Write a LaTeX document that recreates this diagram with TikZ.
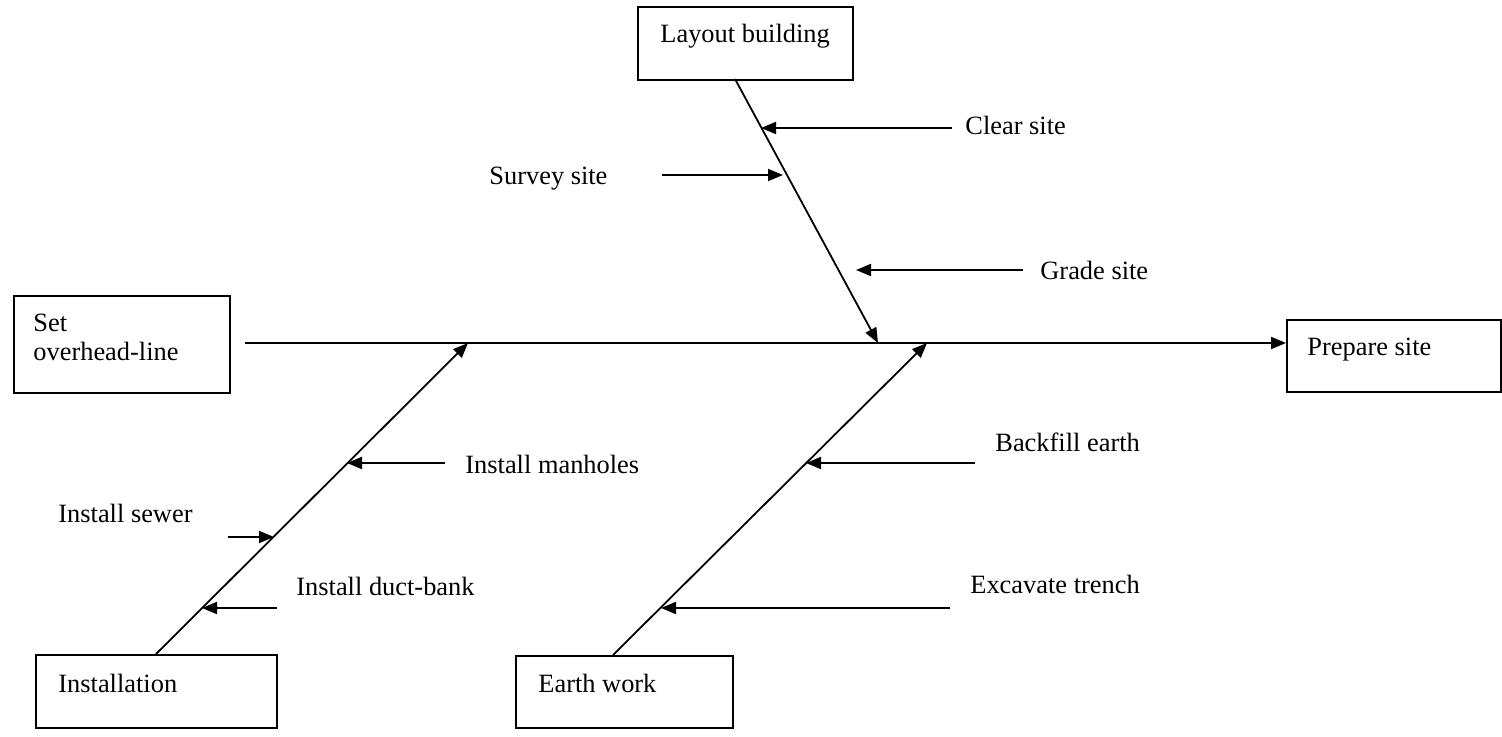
\documentclass[tikz,border=0pt]{standalone}
\usepackage{fontspec}
\setmainfont{Liberation Serif}
\usetikzlibrary{arrows.meta}
\begin{document}
\begin{tikzpicture}[x=0.5pt,y=-0.5pt,
  every node/.style={font=\fontsize{13.2}{14.5}\selectfont},
  box/.style={draw,line width=1pt,rectangle,inner sep=0pt,anchor=north west},
  lbl/.style={anchor=base west,inner sep=0pt,align=left},
  bone/.style={line width=0.9pt,-{Triangle[length=7.5pt,width=6pt]}},
  twig/.style={line width=0.9pt,-{Triangle[length=7.5pt,width=6pt]}}]
\useasboundingbox (0,0) rectangle (1502,737);

% category boxes
\node[box,minimum width=107.5pt,minimum height=36.5pt] (lay) at (637,6) {};
\node[box,minimum width=108pt,minimum height=48.5pt] (set) at (13,295) {};
\node[box,minimum width=107pt,minimum height=36pt] (pre) at (1286,319) {};
\node[box,minimum width=120.5pt,minimum height=36.5pt] (ins) at (35,654) {};
\node[box,minimum width=108.5pt,minimum height=36pt] (ear) at (515,655) {};

\node[lbl] (layt) at (660,43) {Layout building};
\node[lbl] (sett) at (33,360) {Set\\overhead-line};
\node[lbl] (pret) at (1307,355) {Prepare site};
\node[lbl] (inst) at (58,692) {Installation};
\node[lbl] (eart) at (538,692) {Earth work};

% spine
\coordinate (spine0) at (245,343);
\draw[bone] (spine0) -- (spine0 -| pre.west);

% main bones
\coordinate (layfoot) at (735,79);
\coordinate (layend) at (878,343);
\coordinate (insfoot) at (156,654);
\coordinate (insend) at (468,343);
\coordinate (earfoot) at (613,655);
\coordinate (earend) at (927,343);
\draw[bone] (layfoot) -- (layend);
\draw[bone] (insfoot) -- (insend);
\draw[bone] (earfoot) -- (earend);

% sub-causes
\node[lbl] (clear) at (965,135) {Clear site};
\node[lbl] (survey) at (489,185) {Survey site};
\node[lbl] (grade) at (1040,280) {Grade site};
\node[lbl] (manh) at (465,473) {Install manholes};
\node[lbl] (sewer) at (58,522) {Install sewer};
\node[lbl] (duct) at (296,595) {Install duct-bank};
\node[lbl] (back) at (995,451) {Backfill earth};
\node[lbl] (exc) at (970,593) {Excavate trench};

\coordinate (c1) at (952,128);  \coordinate (c2) at (761,128);
\coordinate (s1) at (662,175);  \coordinate (s2) at (783,175);
\coordinate (g1) at (1023,270); \coordinate (g2) at (856,270);
\coordinate (m1) at (445,463);  \coordinate (m2) at (347,463);
\coordinate (w1) at (228,537);  \coordinate (w2) at (274,537);
\coordinate (d1) at (277,608);  \coordinate (d2) at (202,608);
\coordinate (b1) at (975,463);  \coordinate (b2) at (806,463);
\coordinate (e1) at (950,608);  \coordinate (e2) at (661,608);
\draw[twig] (c1) -- (c2);
\draw[twig] (s1) -- (s2);
\draw[twig] (g1) -- (g2);
\draw[twig] (m1) -- (m2);
\draw[twig] (w1) -- (w2);
\draw[twig] (d1) -- (d2);
\draw[twig] (b1) -- (b2);
\draw[twig] (e1) -- (e2);
\end{tikzpicture}
\end{document}
